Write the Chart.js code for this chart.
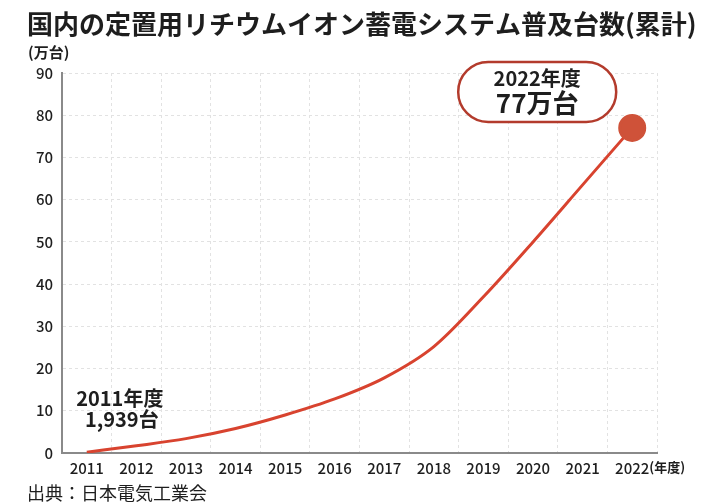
<!DOCTYPE html>
<html lang="ja">
<head>
<meta charset="utf-8">
<title>国内の定置用リチウムイオン蓄電システム普及台数(累計)</title>
<script src="https://cdn.jsdelivr.net/npm/chart.js@4.4.1/dist/chart.umd.min.js"></script>
<style>
  body { margin: 0; background: #fff; }
  #wrap { width: 722px; height: 502px; }
</style>
</head>
<body>
<div id="wrap"><canvas id="chart" width="722" height="502"></canvas></div>
<script>
// data (万台, cumulative)
var years = ['2011', '2012', '2013', '2014', '2015', '2016', '2017', '2018', '2019', '2020', '2021', '2022'];
var units = [0.19, 1.7, 3.4, 5.8, 9.0, 12.8, 17.8, 25.2, 37.0, 50.0, 63.5, 77];
var yTicks = [0, 10, 20, 30, 40, 50, 60, 70, 80, 90];

var titleText = '国内の定置用リチウムイオン蓄電システム普及台数(累計)';
var unitText = '(万台)';
var yearUnitText = '(年度)';
var sourceText = '出典：日本電気工業会';
var firstNote = ['2011年度', '1,939台'];
var lastNote = ['2022年度', '77万台'];

var FONT = '"Noto Sans CJK JP", "Noto Sans", sans-serif';
var RED = '#d8432f';

function roundRect(ctx, x, y, w, h, r) {
    ctx.beginPath();
    ctx.moveTo(x + r, y);
    ctx.lineTo(x + w - r, y);
    ctx.arc(x + w - r, y + r, r, -Math.PI / 2, Math.PI / 2);
    ctx.lineTo(x + r, y + h);
    ctx.arc(x + r, y + r, r, Math.PI / 2, Math.PI * 1.5);
    ctx.closePath();
}

// extra texts: title, units, source, callouts
var extras = {
    id: 'extras',
    afterDraw: function(chart) {
        var ctx = chart.ctx;
        var xs = chart.scales.x, ys = chart.scales.y;
        ctx.save();
        ctx.fillStyle = '#1e1e1e';
        ctx.textBaseline = 'middle';

        ctx.textAlign = 'left';
        ctx.font = 'bold 26px ' + FONT;
        ctx.fillText(titleText, 27, 24);

        ctx.font = 'bold 15px ' + FONT;
        ctx.fillText(unitText, 28, 52);

        ctx.font = '18px ' + FONT;
        ctx.fillText(sourceText, 27, 493);

        // (年度) right after the last tick label
        var lastX = xs.getPixelForValue(years.length - 1);
        ctx.font = '500 15px ' + FONT;
        var w = ctx.measureText(years[years.length - 1]).width;
        ctx.font = 'bold 13px ' + FONT;
        ctx.fillText(yearUnitText, lastX + w / 2, 467);

        // 2011 note
        var x0 = xs.getPixelForValue(0), y0 = ys.getPixelForValue(units[0]);
        ctx.textAlign = 'center';
        ctx.font = 'bold 20px ' + FONT;
        ctx.fillText(firstNote[0], x0 + 33, y0 - 54);
        ctx.fillText(firstNote[1], x0 + 35, y0 - 33);

        // 2022 pill
        var x1 = xs.getPixelForValue(years.length - 1), y1 = ys.getPixelForValue(units[units.length - 1]);
        var cx = x1 - 95, cy = y1 - 36;
        roundRect(ctx, cx - 79, cy - 30, 158, 60, 30);
        ctx.fillStyle = '#fff';
        ctx.fill();
        ctx.lineWidth = 2.5;
        ctx.strokeStyle = '#b33b2c';
        ctx.stroke();
        ctx.fillStyle = '#1e1e1e';
        ctx.font = 'bold 20px ' + FONT;
        ctx.fillText(lastNote[0], cx, cy - 13);
        ctx.font = 'bold 26px ' + FONT;
        ctx.fillText(lastNote[1], cx, cy + 11);
        ctx.restore();
    }
};

var grid = {
    color: '#e2e2e2',
    lineWidth: 1,
    drawTicks: false
};

new Chart(document.getElementById('chart').getContext('2d'), {
    type: 'line',
    data: {
        labels: years,
        datasets: [{
            data: units,
            borderColor: RED,
            borderWidth: 3,
            cubicInterpolationMode: 'monotone',
            pointRadius: function(c) { return c.dataIndex === units.length - 1 ? 12.5 : 0; },
            pointHoverRadius: function(c) { return c.dataIndex === units.length - 1 ? 12.5 : 0; },
            pointBackgroundColor: '#cf5239',
            pointBorderColor: '#cf5239',
            fill: false
        }]
    },
    options: {
        responsive: false,
        animation: false,
        devicePixelRatio: 1,
        layout: { padding: { top: 73, left: 28, right: 65, bottom: 0 } },
        plugins: {
            legend: { display: false },
            tooltip: { enabled: false },
            title: { display: false }
        },
        scales: {
            x: {
                offset: true,
                grid: Object.assign({ offset: true }, grid),
                border: { color: '#8a8a8a', width: 2, dash: [3, 3] },
                ticks: {
                    color: '#1e1e1e',
                    padding: 6,
                    maxRotation: 0,
                    autoSkip: false,
                    font: { family: FONT, size: 15, weight: 500 }
                },
                afterFit: function(s) { s.height = 49; }
            },
            y: {
                min: yTicks[0],
                max: yTicks[yTicks.length - 1],
                grid: grid,
                border: { color: '#8a8a8a', width: 2, dash: [3, 3] },
                afterBuildTicks: function(s) {
                    s.ticks = yTicks.map(function(v) { return { value: v }; });
                },
                ticks: {
                    color: '#1e1e1e',
                    padding: 9,
                    font: { family: FONT, size: 15, weight: 500 }
                },
                afterFit: function(s) { s.width = 34; }
            }
        }
    },
    plugins: [extras]
});
</script>
</body>
</html>
